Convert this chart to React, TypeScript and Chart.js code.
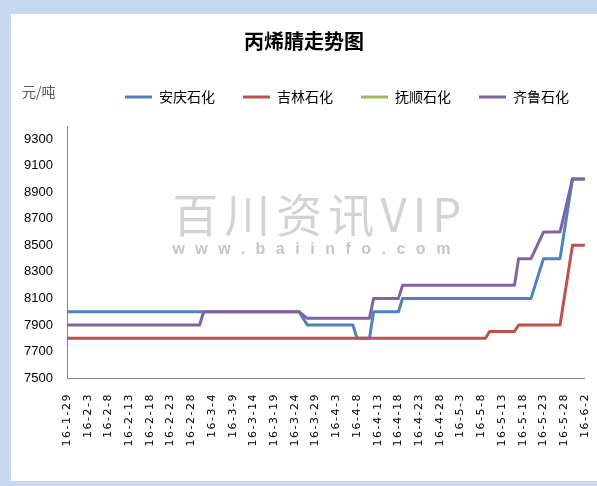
import { useEffect, useRef } from "react";
import { Chart, registerables } from "chart.js";

Chart.register(...registerables);

const TITLE = "丙烯腈走势图";
const UNIT = "元/吨";
const WATERMARK = "百川资讯VIP";
const WATERMARK_URL = "www.baiinfo.com";

const SERIES_NAMES = ["安庆石化", "吉林石化", "抚顺石化", "齐鲁石化"];
const SERIES_COLORS = ["#4F81BD", "#C0504D", "#9BBB59", "#8064A2"];

const DATES = [
  "16-1-29","16-1-30","16-1-31","16-2-1","16-2-2","16-2-3","16-2-4","16-2-5","16-2-6","16-2-7",
  "16-2-8","16-2-9","16-2-10","16-2-11","16-2-12","16-2-13","16-2-14","16-2-15","16-2-16","16-2-17",
  "16-2-18","16-2-19","16-2-20","16-2-21","16-2-22","16-2-23","16-2-24","16-2-25","16-2-26","16-2-27",
  "16-2-28","16-2-29","16-3-1","16-3-2","16-3-3","16-3-4","16-3-5","16-3-6","16-3-7","16-3-8",
  "16-3-9","16-3-10","16-3-11","16-3-12","16-3-13","16-3-14","16-3-15","16-3-16","16-3-17","16-3-18",
  "16-3-19","16-3-20","16-3-21","16-3-22","16-3-23","16-3-24","16-3-25","16-3-26","16-3-27","16-3-28",
  "16-3-29","16-3-30","16-3-31","16-4-1","16-4-2","16-4-3","16-4-4","16-4-5","16-4-6","16-4-7",
  "16-4-8","16-4-9","16-4-10","16-4-11","16-4-12","16-4-13","16-4-14","16-4-15","16-4-16","16-4-17",
  "16-4-18","16-4-19","16-4-20","16-4-21","16-4-22","16-4-23","16-4-24","16-4-25","16-4-26","16-4-27",
  "16-4-28","16-4-29","16-4-30","16-5-1","16-5-2","16-5-3","16-5-4","16-5-5","16-5-6","16-5-7",
  "16-5-8","16-5-9","16-5-10","16-5-11","16-5-12","16-5-13","16-5-14","16-5-15","16-5-16","16-5-17",
  "16-5-18","16-5-19","16-5-20","16-5-21","16-5-22","16-5-23","16-5-24","16-5-25","16-5-26","16-5-27",
  "16-5-28","16-5-29","16-5-30","16-5-31","16-6-1","16-6-2"
];

const SHOWN_DATES = [
  "16-1-29","16-2-3","16-2-8","16-2-13","16-2-18","16-2-23","16-2-28","16-3-4","16-3-9",
  "16-3-14","16-3-19","16-3-24","16-3-29","16-4-3","16-4-8","16-4-13","16-4-18","16-4-23",
  "16-4-28","16-5-3","16-5-8","16-5-13","16-5-18","16-5-23","16-5-28","16-6-2"
];

const Y_MIN = 7500;
const Y_MAX = 9400;
const Y_TICKS = [7500, 7700, 7900, 8100, 8300, 8500, 8700, 8900, 9100, 9300];

// 安庆石化
const ANQING: (number | null)[] = [
  8000,8000,8000,8000,8000,8000,8000,8000,8000,8000,
  8000,8000,8000,8000,8000,8000,8000,8000,8000,8000,
  8000,8000,8000,8000,8000,8000,8000,8000,8000,8000,
  8000,8000,8000,8000,8000,8000,8000,8000,8000,8000,
  8000,8000,8000,8000,8000,8000,8000,8000,8000,8000,
  8000,8000,8000,8000,8000,8000,8000,null,7900,7900,
  7900,7900,7900,7900,7900,7900,7900,7900,7900,7900,
  7800,7800,7800,7800,8000,8000,8000,8000,8000,8000,
  8000,8100,8100,8100,8100,8100,8100,8100,8100,8100,
  8100,8100,8100,8100,8100,8100,8100,8100,8100,8100,
  8100,8100,8100,8100,8100,8100,8100,8100,8100,8100,
  8100,8100,8100,null,null,8400,8400,8400,8400,8400,
  null,null,9000,9000,9000,9000
];

// 吉林石化
const JILIN: (number | null)[] = [
  7800,7800,7800,7800,7800,7800,7800,7800,7800,7800,
  7800,7800,7800,7800,7800,7800,7800,7800,7800,7800,
  7800,7800,7800,7800,7800,7800,7800,7800,7800,7800,
  7800,7800,7800,7800,7800,7800,7800,7800,7800,7800,
  7800,7800,7800,7800,7800,7800,7800,7800,7800,7800,
  7800,7800,7800,7800,7800,7800,7800,7800,7800,7800,
  7800,7800,7800,7800,7800,7800,7800,7800,7800,7800,
  7800,7800,7800,7800,7800,7800,7800,7800,7800,7800,
  7800,7800,7800,7800,7800,7800,7800,7800,7800,7800,
  7800,7800,7800,7800,7800,7800,7800,7800,7800,7800,
  7800,7800,7850,7850,7850,7850,7850,7850,7850,7900,
  7900,7900,7900,7900,7900,7900,7900,7900,7900,7900,
  null,null,8500,8500,8500,8500
];

// 抚顺石化 (no visible line in the reference)
const FUSHUN: (number | null)[] = [];

// 齐鲁石化
const QILU: (number | null)[] = [
  7900,7900,7900,7900,7900,7900,7900,7900,7900,7900,
  7900,7900,7900,7900,7900,7900,7900,7900,7900,7900,
  7900,7900,7900,7900,7900,7900,7900,7900,7900,7900,
  7900,7900,7900,8000,8000,8000,8000,8000,8000,8000,
  8000,8000,8000,8000,8000,8000,8000,8000,8000,8000,
  8000,8000,8000,8000,8000,8000,8000,null,7950,7950,
  7950,7950,7950,7950,7950,7950,7950,7950,7950,7950,
  7950,7950,7950,7950,8100,8100,8100,8100,8100,8100,
  8100,8200,8200,8200,8200,8200,8200,8200,8200,8200,
  8200,8200,8200,8200,8200,8200,8200,8200,8200,8200,
  8200,8200,8200,8200,8200,8200,8200,8200,8200,8400,
  8400,8400,8400,null,null,8600,8600,8600,8600,8600,
  null,null,9000,9000,9000,9000
];

const SERIES = [ANQING, JILIN, FUSHUN, QILU];

const CJK = "'Noto Sans CJK SC', 'Noto Sans', sans-serif";

const tweaks = {
  id: "tweaks",
  beforeLayout(chart: any) {
    const lg = chart.legend;
    if (lg && !lg._fitPatched) {
      const orig = lg.fit;
      lg.fit = function () {
        orig.call(this);
        this.height += 12;
      };
      lg._fitPatched = true;
    }
  },
  afterLayout(chart: any) {
    const lg = chart.legend;
    if (lg) {
      lg.left += 86;
      lg.right += 86;
    }
    const xs = chart.scales.x;
    if (xs && !xs._lsPatched) {
      const orig = xs.drawLabels;
      xs.drawLabels = function (area: any) {
        const c = this.ctx;
        c.save();
        c.letterSpacing = "1.5px";
        orig.call(this, area);
        c.restore();
      };
      xs._lsPatched = true;
    }
  },
  beforeDatasetsDraw(chart: any) {
    const { ctx, chartArea: a } = chart;
    ctx.save();
    ctx.textAlign = "center";
    ctx.textBaseline = "middle";
    ctx.fillStyle = "#d3d3d3";
    ctx.font = `46px ${CJK}`;
    ctx.letterSpacing = "6px";
    ctx.fillText(WATERMARK, a.left + a.width * 0.488, a.top + a.height * 0.35);
    ctx.fillStyle = "#c6c6c6";
    ctx.font = "bold 16px 'Liberation Sans', sans-serif";
    ctx.letterSpacing = "10.5px";
    ctx.fillText(WATERMARK_URL, a.left + a.width * 0.482, a.top + a.height * 0.489);
    ctx.restore();
  },
  afterDraw(chart: any) {
    const { ctx, chartArea: a } = chart;
    ctx.save();
    ctx.textAlign = "left";
    ctx.textBaseline = "middle";
    ctx.fillStyle = "#595959";
    ctx.font = `14px ${CJK}`;
    ctx.fillText(UNIT, a.left - 45, a.top - 34);
    ctx.restore();
  },
};

export default function App() {
  const ref = useRef<HTMLCanvasElement | null>(null);

  useEffect(() => {
    if (!ref.current) return;
    const shown = new Set(SHOWN_DATES);
    const chart = new Chart(ref.current, {
      type: "line",
      data: {
        labels: DATES,
        datasets: SERIES.map((d, i) => ({
          label: SERIES_NAMES[i],
          data: d,
          borderColor: SERIES_COLORS[i],
          backgroundColor: SERIES_COLORS[i],
          borderWidth: 3,
          pointRadius: 0,
          pointHoverRadius: 0,
          tension: 0,
          spanGaps: true,
          fill: false,
          borderJoinStyle: "round" as const,
          order: SERIES.length - 1 - i,
        })),
      },
      options: {
        responsive: false,
        animation: false,
        events: [],
        layout: { padding: 0 },
        plugins: {
          tooltip: { enabled: false },
          title: {
            display: true,
            text: TITLE,
            color: "#000",
            font: { family: CJK, size: 20, weight: "bold", lineHeight: 1.2 },
            padding: { top: 15, bottom: 9 },
          },
          legend: {
            display: true,
            position: "top",
            align: "start",
            reverse: true,
            labels: {
              usePointStyle: true,
              pointStyle: "line",
              pointStyleWidth: 27,
              padding: 28,
              color: "#000",
              font: { family: CJK, size: 14 },
            },
          },
        },
        scales: {
          x: {
            type: "category",
            offset: false,
            grid: { display: false, drawTicks: true, tickLength: 15 },
            border: { display: true, color: "#868686", width: 1 },
            ticks: {
              autoSkip: false,
              maxRotation: 90,
              minRotation: 90,
              padding: 0,
              color: "#000",
              font: { family: "'DejaVu Sans', sans-serif", size: 11, lineHeight: 1.1 },
              callback: (_v: any, i: number) => (shown.has(DATES[i]) ? DATES[i] : ""),
            },
            afterFit: (s: any) => {
              s.height = 103;
            },
          },
          y: {
            min: Y_MIN,
            max: Y_MAX,
            grid: { display: false, drawTicks: false },
            border: { display: true, color: "#868686", width: 1 },
            ticks: {
              padding: 14,
              color: "#000",
              font: { family: "'Liberation Sans', Arial, sans-serif", size: 13 },
              callback: (v: any) => String(v),
            },
            afterBuildTicks: (s: any) => {
              s.ticks = Y_TICKS.map((v) => ({ value: v }));
            },
            afterFit: (s: any) => {
              s.width = 56;
            },
          },
        },
      },
      plugins: [tweaks],
    } as any);
    return () => chart.destroy();
  }, []);

  return (
    <div
      style={{
        position: "fixed",
        left: 0,
        top: 0,
        width: 597,
        height: 486,
        background: "#C6D9F0",
        overflow: "hidden",
      }}
    >
      <canvas
        ref={ref}
        width={586}
        height={467}
        style={{ position: "absolute", left: 11, top: 14, background: "#fff" }}
      />
    </div>
  );
}
